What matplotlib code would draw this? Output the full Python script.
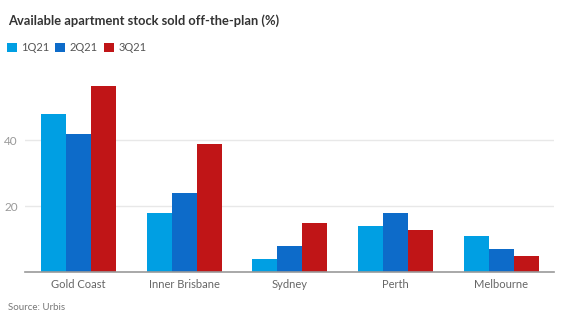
import numpy as np
import matplotlib
matplotlib.use('Agg')
import matplotlib.pyplot as plt

# values (%)
regions = ["Gold Coast", "Inner Brisbane", "Sydney", "Perth", "Melbourne"]
q1 = [48, 18, 4, 14, 11]
q2 = [42, 24, 8, 18, 7]
q3 = [56.5, 39, 15, 13, 5]
series_names = ["1Q21", "2Q21", "3Q21"]
y_ticks = [20, 40]

colors = ["#009FE3", "#0D6BC9", "#C01517"]

plt.rcParams['font.family'] = ['Lato', 'DejaVu Sans']

fig = plt.figure(figsize=(5.64, 3.22), dpi=100)
ax = fig.add_axes([0.044, 0.154, 0.938, 0.615])

x = np.arange(len(regions))
w = 0.237
for i, (vals, name) in enumerate(zip([q1, q2, q3], series_names)):
    ax.bar(x + (i - 1) * w, vals, width=w, color=colors[i], label=name,
           zorder=3, linewidth=0)

ax.set_xlim(-0.51, 4.5)
ax.set_ylim(0, 60)
ax.set_yticks(y_ticks)
ax.set_xticks(x)
ax.set_xticklabels(regions)
ax.grid(axis='y', color='#e8e8e8', linewidth=1, zorder=0)
ax.tick_params(axis='both', length=0, labelsize=8, colors='#666666')
ax.tick_params(axis='y', pad=5, labelcolor='#999999', labelsize=8.5)
ax.tick_params(axis='x', pad=5)
for s in ['top', 'right', 'left']:
    ax.spines[s].set_visible(False)
ax.spines['bottom'].set_color('#999999')
ax.spines['bottom'].set_linewidth(1.2)
ax.spines['bottom'].set_zorder(4)

fig.text(0.014, 0.935, "Available apartment stock sold off-the-plan (%)",
         fontsize=9.3, fontweight='bold', color='#333333', va='center')

leg = fig.legend(loc='upper left', bbox_to_anchor=(-0.006, 0.9), ncol=3,
                 frameon=False, fontsize=8, handlelength=0.9,
                 handleheight=0.9, handletextpad=0.4, columnspacing=0.55)
for t in leg.get_texts():
    t.set_color('#555555')

fig.text(0.014, 0.045, "Source: Urbis", fontsize=7, color='#777777',
         va='center')

fig.savefig("out.png", dpi=100)
